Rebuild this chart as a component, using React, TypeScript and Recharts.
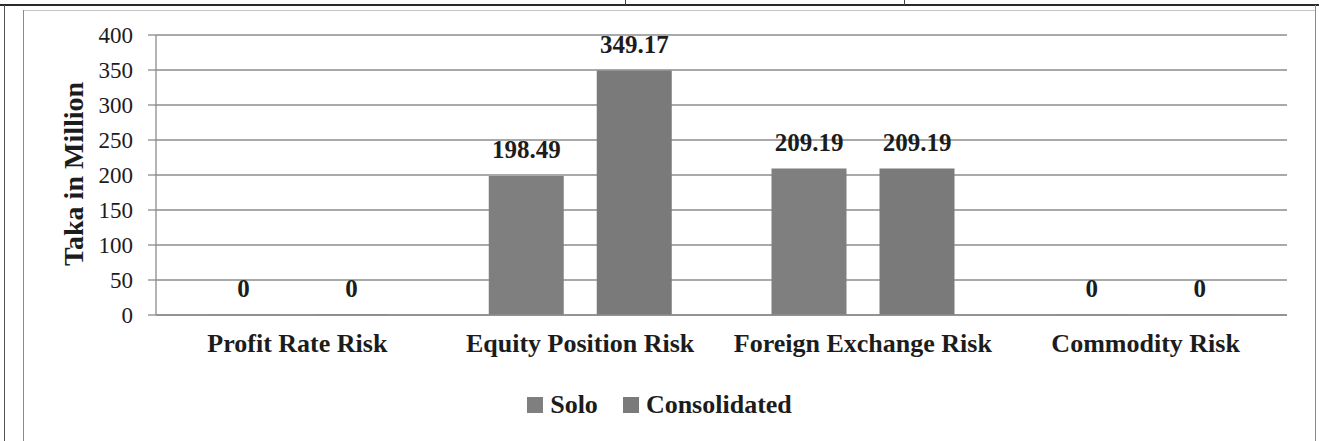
import React from 'react';
import { BarChart, Bar, XAxis, YAxis, CartesianGrid, Legend, LabelList } from 'recharts';

const categories = ['Profit Rate Risk', 'Equity Position Risk', 'Foreign Exchange Risk', 'Commodity Risk'];
const soloValues = [0, 198.49, 209.19, 0];
const consolidatedValues = [0, 349.17, 209.19, 0];
const yTicks = [0, 50, 100, 150, 200, 250, 300, 350, 400];
const seriesNames = ['Solo', 'Consolidated'];
const seriesColors = ['#7f7f7f', '#7a7a7a'];

const data = categories.map((name, i) => ({
  name,
  solo: soloValues[i],
  consolidated: consolidatedValues[i],
}));

const FONT = '"Liberation Serif", "Times New Roman", serif';
const INK = '#1c1c1c';
const GRID = '#8c8c8c';

// rotated axis title, placed by hand like the scanned original
const YTitle = () => (
  <text
    transform="translate(83,174) rotate(-90)"
    textAnchor="middle"
    fontFamily={FONT}
    fontSize={28}
    fontWeight="bold"
    fill={INK}
  >
    Taka in Million
  </text>
);

// value label above each bar, zeros included
const ValueLabel = (props: any) => {
  const { x, y, width, value } = props;
  return (
    <text
      x={x + width / 2}
      y={y - 18}
      textAnchor="middle"
      fontFamily={FONT}
      fontSize={25}
      fontWeight="bold"
      fill={INK}
    >
      {value}
    </text>
  );
};

const LegendContent = () => (
  <div style={{ display: 'flex', justifyContent: 'center', alignItems: 'center', height: 30 }}>
    {seriesNames.map((s, i) => (
      <div key={s} style={{ display: 'flex', alignItems: 'center', marginRight: i === 0 ? 25 : 0 }}>
        <span style={{ width: 16, height: 16, background: seriesColors[i], display: 'inline-block', marginRight: 7 }} />
        <span style={{ fontFamily: FONT, fontSize: 26, fontWeight: 'bold', color: INK, lineHeight: '30px' }}>{s}</span>
      </div>
    ))}
  </div>
);

const line = (style: React.CSSProperties) => <div style={{ position: 'absolute', ...style }} />;

export default function App() {
  return (
    <div
      style={{
        position: 'absolute',
        left: 0,
        top: 0,
        width: 1319,
        height: 441,
        background: '#fff',
        overflow: 'hidden',
        fontFamily: FONT,
      }}
    >
      {/* page frame from the scanned report */}
      {line({ left: 0, top: 4, width: 1319, height: 2, background: '#2a2a2a' })}
      {line({ left: 625, top: 0, width: 1, height: 5, background: '#444' })}
      {line({ left: 904, top: 0, width: 1, height: 5, background: '#444' })}
      {line({ left: 23, top: 10, width: 1292, height: 1, background: '#c4c4c4' })}
      {line({ left: 4, top: 5, width: 1, height: 436, background: '#555' })}
      {line({ left: 23, top: 10, width: 1, height: 431, background: '#8a8a8a' })}
      {line({ left: 1315, top: 5, width: 1, height: 436, background: '#8a8a8a' })}

      <BarChart
        width={1319}
        height={441}
        data={data}
        margin={{ top: 35, right: 32, bottom: 0, left: 0 }}
        barSize={75}
        barGap={33}
        style={{ position: 'absolute', left: 0, top: 0 }}
      >
        <CartesianGrid vertical={false} stroke={GRID} strokeWidth={1.3} />
        <XAxis
          dataKey="name"
          height={126}
          interval={0}
          tickLine={false}
          tickSize={0}
          tickMargin={19}
          axisLine={{ stroke: GRID, strokeWidth: 1.3 }}
          tick={{ fontFamily: FONT, fontSize: 26, fontWeight: 'bold', fill: INK }}
        />
        <YAxis
          width={156}
          domain={[0, 400]}
          ticks={yTicks}
          interval={0}
          tickSize={8}
          tickMargin={15}
          axisLine={{ stroke: GRID, strokeWidth: 1.3 }}
          tickLine={{ stroke: GRID, strokeWidth: 1.3 }}
          tick={{ fontFamily: FONT, fontSize: 23, fill: INK }}
          label={<YTitle />}
        />
        <Legend
          verticalAlign="middle"
          content={<LegendContent />}
          wrapperStyle={{ top: 390, left: 0, width: 1319 }}
        />
        <Bar dataKey="solo" name={seriesNames[0]} fill={seriesColors[0]} minPointSize={0.5} isAnimationActive={false}>
          <LabelList dataKey="solo" content={ValueLabel} />
        </Bar>
        <Bar dataKey="consolidated" name={seriesNames[1]} fill={seriesColors[1]} minPointSize={0.5} isAnimationActive={false}>
          <LabelList dataKey="consolidated" content={ValueLabel} />
        </Bar>
      </BarChart>
    </div>
  );
}
